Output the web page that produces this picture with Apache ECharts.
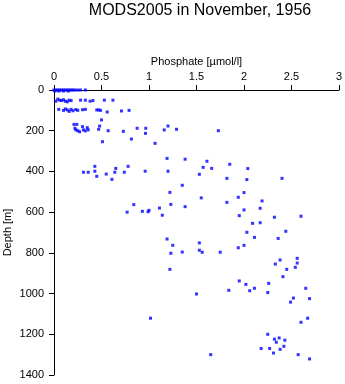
<!DOCTYPE html>
<html>
<head>
<meta charset="utf-8">
<script src="https://cdn.jsdelivr.net/npm/echarts@6/dist/echarts.min.js"></script>
<style>
html,body{margin:0;padding:0;background:#fff;}
#chart{width:345px;height:384px;}
</style>
</head>
<body>
<div id="chart"></div>
<script>
// Phosphate [µmol/l] values
const phosphate = [
  0.00,0.02,0.04,0.06,0.08,0.10,0.12,0.14,0.16,0.18,0.20,0.22,0.25,0.28,0.33,0.01,0.05,0.10,0.15,
  0.02,0.04,0.06,0.08,0.10,0.12,0.14,0.16,0.18,0.28,0.33,0.38,0.41,0.53,0.62,
  0.05,0.10,0.12,0.14,0.16,0.18,0.20,0.23,0.25,0.30,0.33,0.45,0.47,0.49,0.56,0.71,0.79,
  0.50,0.48,0.47,0.21,0.24,0.22,0.23,0.25,0.27,0.30,0.31,0.33,0.35,0.36,0.57,0.73,0.875,0.966,0.963,0.815,0.51,1.064,1.16,1.20,1.29,1.73,
  0.31,0.36,0.43,0.43,0.45,0.55,0.61,0.64,0.65,0.74,0.78,0.96,1.19,1.20,1.38,1.53,1.57,1.61,1.66,1.82,1.85,2.04,2.03,2.40,
  1.35,1.22,2.00,1.55,1.94,2.19,1.82,1.23,0.84,1.38,1.11,2.17,2.00,0.99,1.00,0.93,0.77,1.14,1.95,2.32,2.60,
  2.09,2.17,2.44,2.03,2.11,2.36,1.19,1.53,1.25,2.00,1.94,1.53,1.35,1.56,1.75,1.23,2.56,2.38,2.56,2.33,2.54,1.22,2.45,2.41,
  1.95,2.26,2.02,2.11,2.65,1.84,2.06,2.25,1.50,2.52,2.69,2.49,
  1.016,2.67,2.60,2.25,2.37,2.32,2.43,2.34,2.42,2.18,2.27,2.38,2.31,1.65,2.57,2.69
];
// Depth [m] values (same order)
const depth = [
  0,0,0,0,0,0,0,0,0,0,0,0,0,0,0,5,5,5,5,
  55,45,50,52,48,55,58,50,52,50,50,55,52,50,50,
  95,100,93,98,105,95,102,96,100,97,95,98,98,100,108,103,100,
  147,177,193,169,169,188,196,200,205,180,196,201,185,196,200,203,188,188,213,241,254,262,196,177,193,200,
  404,404,375,399,424,413,439,404,385,404,375,399,336,399,340,414,380,350,385,434,365,386,440,434,
  468,503,504,530,527,545,552,562,563,573,580,581,589,598,591,596,600,615,617,625,620,
  655,652,694,699,724,729,732,751,763,763,775,787,796,797,797,802,827,835,850,855,871,881,881,917,
  938,950,955,974,974,984,986,995,1002,1022,1025,1042,
  1121,1121,1141,1200,1218,1224,1229,1239,1259,1270,1270,1274,1292,1300,1300,1321
];
const xTicks = ['0','0.5','1','1.5','2','2.5','3'];
const yTicks = ['0','200','400','600','800','1000','1200','1400'];
const titleText = 'MODS2005 in November, 1956';
const xName = 'Phosphate [\u00b5mol/l]';
const yName = 'Depth [m]';

const points = phosphate.map((p, i) => [p, depth[i]]);
const chart = echarts.init(document.getElementById('chart'), null, {renderer: 'canvas'});
const font = 'Liberation Sans';
chart.setOption({
  animation: false,
  backgroundColor: '#ffffff',
  title: {
    text: titleText, left: 195, top: -2, textAlign: 'center',
    textStyle: {fontFamily: font, fontSize: 16, fontWeight: 'normal', color: '#000'}
  },
  grid: {left: 54, right: 6, top: 90, bottom: 9, containLabel: false, outerBoundsMode: 'none'},
  xAxis: {
    type: 'value', position: 'top', min: 0, max: 3, interval: 0.5,
    name: xName, nameLocation: 'middle', nameGap: 23, nameMoveOverlap: false,
    nameTextStyle: {fontFamily: font, fontSize: 11, color: '#000'},
    axisLine: {show: true, lineStyle: {color: '#000', width: 1}},
    axisTick: {show: true, length: 5, lineStyle: {color: '#000'}},
    axisLabel: {fontFamily: font, fontSize: 11, color: '#000', margin: 8,
      formatter: (v) => xTicks[Math.round(v / 0.5)]},
    splitLine: {show: false}
  },
  yAxis: {
    type: 'value', inverse: true, min: 0, max: 1400, interval: 200,
    name: yName, nameLocation: 'middle', nameGap: 41, nameRotate: 90, nameMoveOverlap: false,
    nameTextStyle: {fontFamily: font, fontSize: 11, color: '#000'},
    axisLine: {show: true, lineStyle: {color: '#000', width: 1}},
    axisTick: {show: true, length: 5, lineStyle: {color: '#000'}},
    axisLabel: {fontFamily: font, fontSize: 11, color: '#000', margin: 10,
      formatter: (v) => yTicks[Math.round(v / 200)]},
    splitLine: {show: false}
  },
  series: [{
    type: 'scatter', data: points, symbol: 'rect', symbolSize: 3,
    itemStyle: {color: '#0000ff'}
  }]
});
</script>
</body>
</html>
